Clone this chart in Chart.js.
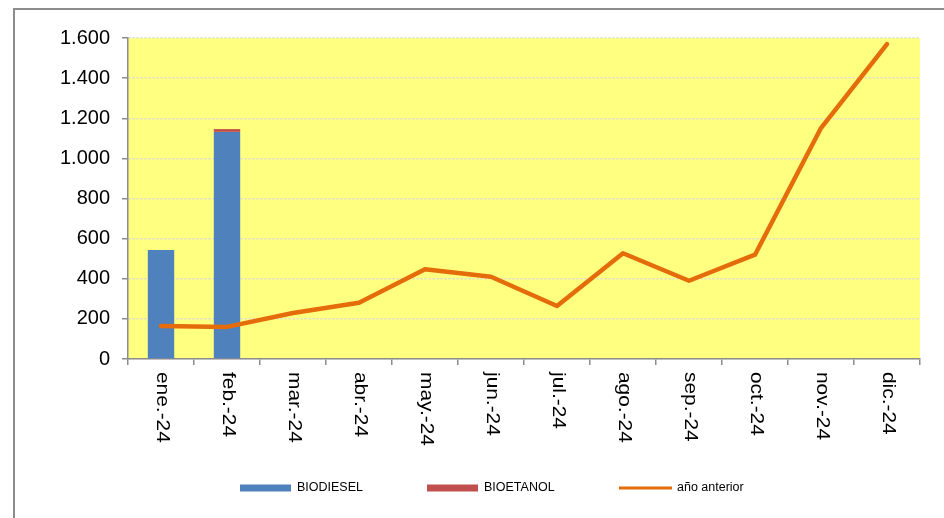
<!DOCTYPE html>
<html>
<head>
<meta charset="utf-8">
<script src="https://cdn.jsdelivr.net/npm/chart.js@4.4.1/dist/chart.umd.min.js"></script>
<style>
  html, body { margin: 0; padding: 0; background: #fff; }
  #wrap { width: 944px; height: 518px; position: relative; }
</style>
</head>
<body>
<div id="wrap"><canvas id="chart" width="944" height="518"></canvas></div>
<script>
const months = ['ene.-24', 'feb.-24', 'mar.-24', 'abr.-24', 'may.-24', 'jun.-24',
  'jul.-24', 'ago.-24', 'sep.-24', 'oct.-24', 'nov.-24', 'dic.-24'];
const biodiesel = [543, 1132, null, null, null, null, null, null, null, null, null, null];
const bioetanol = [0, 14, null, null, null, null, null, null, null, null, null, null];
const anioAnterior = [165, 160, 229, 280, 447, 410, 264, 527, 390, 520, 1151, 1570];
const yTicks = [0, 200, 400, 600, 800, 1000, 1200, 1400, 1600];

const FONT = 'Arial, "Liberation Sans", sans-serif';

// frame, plot fill, vertical month labels and the legend
const decor = {
  id: 'decor',
  beforeDraw(chart) {
    const { ctx, chartArea: a } = chart;
    ctx.save();
    ctx.fillStyle = '#ffff80';
    ctx.fillRect(a.left, a.top, a.right - a.left, a.bottom - a.top);
    ctx.strokeStyle = '#8c8c8c';
    ctx.lineWidth = 2;
    ctx.beginPath();
    ctx.moveTo(14, 520);
    ctx.lineTo(14, 9);
    ctx.lineTo(946, 9);
    ctx.stroke();
    ctx.restore();
  },
  afterDraw(chart) {
    const { ctx } = chart;
    const x = chart.scales.x;
    ctx.save();
    ctx.fillStyle = '#000';
    ctx.font = '18px ' + FONT;
    ctx.textAlign = 'left';
    ctx.textBaseline = 'middle';
    months.forEach((m, i) => {
      ctx.save();
      ctx.translate(x.getPixelForValue(i) + 1, 372);
      ctx.rotate(Math.PI / 2);
      ctx.scale(1.16, 1);
      ctx.fillText(m, 0, 0);
      ctx.restore();
    });

    // legend
    const ly = 488;
    ctx.font = '12.5px ' + FONT;
    const ds = chart.data.datasets;
    ctx.fillStyle = ds[0].backgroundColor;
    ctx.fillRect(240, ly - 3.5, 51, 7);
    ctx.fillStyle = '#000';
    ctx.fillText(ds[0].label, 297, ly);
    ctx.fillStyle = ds[1].backgroundColor;
    ctx.fillRect(427, ly - 3.5, 51, 7);
    ctx.fillStyle = '#000';
    ctx.fillText(ds[1].label, 484, ly);
    ctx.strokeStyle = ds[2].borderColor;
    ctx.lineWidth = 3;
    ctx.beginPath();
    ctx.moveTo(619, ly);
    ctx.lineTo(672, ly);
    ctx.stroke();
    ctx.fillStyle = '#000';
    ctx.fillText(ds[2].label, 677, ly);
    ctx.restore();
  }
};

new Chart(document.getElementById('chart'), {
  type: 'bar',
  data: {
    labels: months,
    datasets: [
      {
        label: 'BIODIESEL',
        data: biodiesel,
        backgroundColor: '#4f81bd',
        stack: 'bio',
        order: 2,
        barPercentage: 0.4,
        categoryPercentage: 1
      },
      {
        label: 'BIOETANOL',
        data: bioetanol,
        backgroundColor: '#c0504d',
        stack: 'bio',
        order: 2,
        barPercentage: 0.4,
        categoryPercentage: 1
      },
      {
        type: 'line',
        label: 'año anterior',
        data: anioAnterior,
        borderColor: '#e46c0a',
        borderWidth: 4.5,
        borderCapStyle: 'round',
        borderJoinStyle: 'round',
        pointRadius: 0,
        tension: 0,
        stack: 'prev',
        order: 1
      }
    ]
  },
  options: {
    responsive: false,
    animation: false,
    events: [],
    layout: { padding: { top: 38, right: 24, left: 0, bottom: 0 } },
    plugins: { legend: { display: false }, tooltip: { enabled: false } },
    scales: {
      x: {
        stacked: true,
        offset: true,
        afterFit(s) { s.height = 159; },
        ticks: { display: false },
        grid: { display: true, drawOnChartArea: false, offset: true, tickLength: 6, color: '#8c8c8c', lineWidth: 1.5 },
        border: { color: '#8c8c8c', width: 1.5 }
      },
      y: {
        stacked: true,
        min: 0,
        max: 1600,
        afterFit(s) { s.width = 128; },
        afterBuildTicks(s) { s.ticks = yTicks.map(v => ({ value: v })); },
        ticks: {
          padding: 12,
          color: '#000',
          font: { family: FONT, size: 20 },
          callback: v => v.toLocaleString('de-DE')
        },
        grid: {
          color: '#d9d9d9',
          lineWidth: 1.5,
          tickLength: 6,
          tickColor: '#8c8c8c',
          tickBorderDash: []
        },
        border: { color: '#8c8c8c', width: 1.5, dash: [2, 2] }
      }
    }
  },
  plugins: [decor]
});
</script>
</body>
</html>
